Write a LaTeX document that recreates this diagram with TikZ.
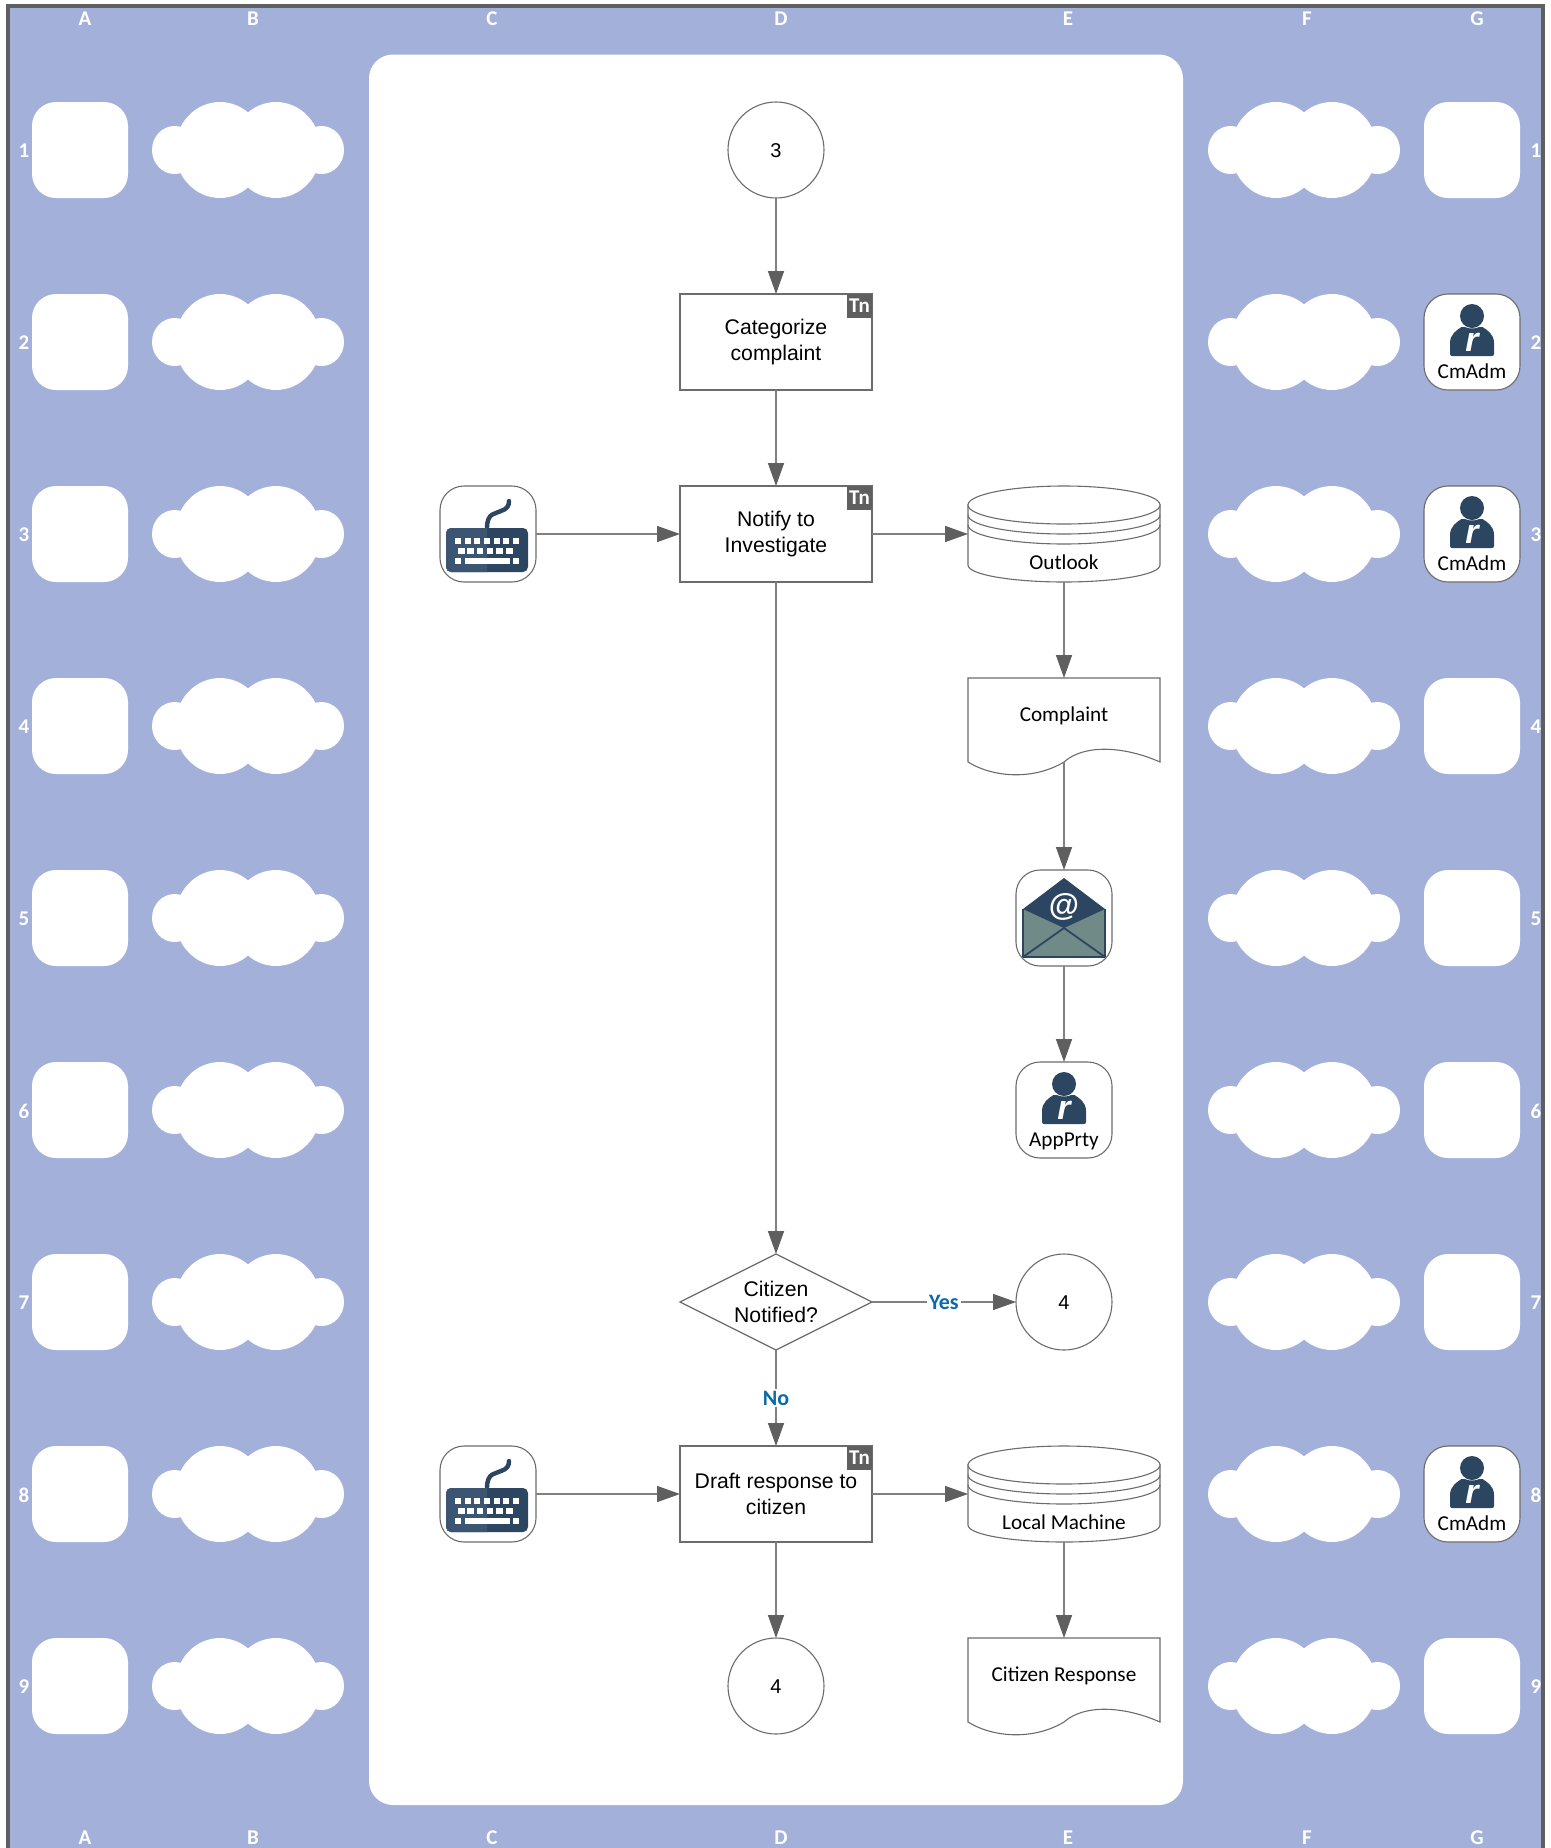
\documentclass[tikz,border=0pt]{standalone}
\usepackage{fontspec}
\setmainfont{Carlito}
\newfontfamily\arialf{Liberation Sans}
\usetikzlibrary{arrows.meta,shapes.geometric}
\definecolor{bandblue}{HTML}{A3B0D9}
\definecolor{framegray}{HTML}{5F5F5F}
\definecolor{linegray}{HTML}{808080}
\definecolor{shapegray}{HTML}{6C6C6C}
\definecolor{icondark}{HTML}{2C4560}
\definecolor{iconmid}{HTML}{3B5572}
\definecolor{iconsage}{HTML}{6F8A87}
\definecolor{labelblue}{HTML}{0B6AA8}
\tikzset{
  x=0.5pt,y=-0.5pt,
  flow/.style={draw=linegray,line width=0.75pt,-{Triangle[length=11.5pt,width=8pt,color=framegray]}},
  axislabel/.style={text=white,font=\bfseries\fontsize{10.5}{12}\selectfont,inner sep=0pt},
  spot/.style={fill=white,draw=none,rounded corners=12pt,minimum width=48pt,minimum height=48pt,inner sep=0pt,outer sep=0pt},
  iconbox/.style={fill=white,draw=shapegray,line width=0.55pt,rounded corners=12pt,minimum width=48pt,minimum height=48pt,inner sep=0pt,outer sep=0pt},
  taskbox/.style={fill=white,draw=shapegray,line width=0.6pt,minimum width=96pt,minimum height=48pt,inner sep=0pt,outer sep=0pt,align=center,font=\arialf\fontsize{10.6}{13}\selectfont},
  tnbadge/.style={fill=framegray,text=white,minimum width=12.5pt,minimum height=12pt,inner sep=0pt,outer sep=0pt,font=\bfseries\fontsize{10.5}{11}\selectfont},
  roundnode/.style={circle,fill=white,draw=shapegray,line width=0.55pt,minimum size=48pt,inner sep=0pt,outer sep=0pt,font=\arialf\fontsize{10}{12}\selectfont},
  decision/.style={diamond,aspect=2,fill=white,draw=shapegray,line width=0.6pt,minimum width=96pt,minimum height=48pt,inner sep=0pt,outer sep=0pt,align=center},
  plainhit/.style={draw=none,fill=none,minimum width=96pt,inner sep=0pt,outer sep=0pt},
  shapeline/.style={draw=shapegray,line width=0.55pt,fill=white},
  calibri/.style={font=\fontsize{10.6}{12}\selectfont,inner sep=0pt},
  flowlabel/.style={fill=white,text=labelblue,font=\bfseries\fontsize{11}{12}\selectfont,inner sep=1pt},
}
\newcommand{\cloudshape}[2]{%
  \fill[white] (#1+22.5,#2) ellipse[x radius=11.25pt,y radius=12pt]
    (#1+68,#2) ellipse[x radius=22.5pt,y radius=24pt]
    (#1+124,#2) ellipse[x radius=22.5pt,y radius=24pt]
    (#1+169.5,#2) ellipse[x radius=11.25pt,y radius=12pt];}
\newcommand{\usericon}[5]{%
  \node[iconbox] (#1) at (#2,#3) {};
  \begin{scope}[shift={(#2,#3)}]
    \fill[icondark] (0,-26) circle[radius=6pt];
    \fill[icondark,rounded corners=1pt] (-22,14) -- (-22,3) .. controls (-22,-8) and (-15,-12) .. (-9,-16)
      .. controls (-4,-13) and (4,-13) .. (9,-16) .. controls (15,-12) and (22,-8) .. (22,3) -- (22,14) -- cycle;
    \node[text=white,inner sep=0pt,font=\arialf\bfseries\itshape\fontsize{17}{17}\selectfont] (#1r) at (0,0) {r};
    \node[calibri] (#1t) at (0,#5) {#4};
  \end{scope}}
\newcommand{\keyboardicon}[3]{%
  \node[iconbox] (#1) at (#2,#3) {};
  \begin{scope}[shift={(#2,#3)}]
    \draw[icondark,line width=2.2pt,line cap=round] (-1,-6) .. controls (-1,-22) and (8,-20) .. (13,-23) .. controls (19,-25) and (21,-28) .. (21,-33);
    \fill[icondark,rounded corners=2.5pt] (-42,-6) rectangle (40,38);
    \begin{scope}
      \clip (-42,-6) rectangle (-1,38);
      \fill[iconmid,rounded corners=2.5pt] (-42,-6) rectangle (40,38);
    \end{scope}
    \foreach \kx in {-33,-23.5,-14,-4,5.5,15,25} \fill[white] (\kx,4) rectangle ++(6,5.5);
    \foreach \kx in {-30,-21,-11.5,-1.5,8,18} \fill[white] (\kx,13.5) rectangle ++(6.5,6);
    \fill[white] (-33,23.5) rectangle ++(6,6);
    \fill[white] (-23.5,23.5) rectangle (21.5,29.5);
    \fill[white] (25,23.5) rectangle ++(6,6);
  \end{scope}}
\newcommand{\cylinderbody}[3]{%
  \begin{scope}[shift={(#2,#3)}]
    \path[shapeline] (-96,-29) -- (-96,31) .. controls (-96,41) and (-50,48) .. (0,48) .. controls (50,48) and (96,41) .. (96,31) -- (96,-29) -- cycle;
    \draw[shapegray,line width=0.55pt] (-96,-19) .. controls (-96,-8) and (-50,0) .. (0,0) .. controls (50,0) and (96,-8) .. (96,-19);
    \draw[shapegray,line width=0.55pt] (-96,-9) .. controls (-96,2) and (-50,10) .. (0,10) .. controls (50,10) and (96,2) .. (96,-9);
    \path[shapeline] (0,-29) ellipse[x radius=48pt,y radius=9.5pt];
  \end{scope}}
\newcommand{\docbody}[2]{%
  \begin{scope}[shift={(#1,#2)}]
    \path[shapeline] (-96,0) -- (96,0) -- (96,84) .. controls (60,68) and (20,66) .. (0,84) .. controls (-30,102) and (-70,100) .. (-96,84) -- cycle;
  \end{scope}}
\begin{document}
\begin{tikzpicture}
\useasboundingbox (0,0) rectangle (1551,1848);
\fill[white] (0,0) rectangle (1551,1848);
\fill[bandblue] (8,6) rectangle (1543,1848);
\draw[framegray,line width=1.7pt] (8,1848) -- (8,6) -- (1543,6) -- (1543,1848);
\fill[white,rounded corners=12pt] (369,54.5) rectangle (1183,1805);

% grid labels
\node[axislabel] (colAt) at (85,19) {A};
\node[axislabel] (colBt) at (253,19) {B};
\node[axislabel] (colCt) at (492,19) {C};
\node[axislabel] (colDt) at (781,19) {D};
\node[axislabel] (colEt) at (1068,19) {E};
\node[axislabel] (colFt) at (1307,19) {F};
\node[axislabel] (colGt) at (1477,19) {G};
\node[axislabel] (colAb) at (85,1837.5) {A};
\node[axislabel] (colBb) at (253,1837.5) {B};
\node[axislabel] (colCb) at (492,1837.5) {C};
\node[axislabel] (colDb) at (781,1837.5) {D};
\node[axislabel] (colEb) at (1068,1837.5) {E};
\node[axislabel] (colFb) at (1307,1837.5) {F};
\node[axislabel] (colGb) at (1477,1837.5) {G};

\foreach \r in {1,...,9}{
  \pgfmathsetmacro\yy{150+192*(\r-1)}
  \node[axislabel] (rowL\r) at (24,\yy+1) {\r};
  \node[axislabel] (rowR\r) at (1536,\yy+1) {\r};
  \node[spot] (spotA\r) at (80,\yy) {};
  \cloudshape{152}{\yy}
  \cloudshape{1208}{\yy}
}
\foreach \r in {1,4,5,6,7,9}{
  \pgfmathsetmacro\yy{150+192*(\r-1)}
  \node[spot] (spotG\r) at (1472,\yy) {};
}

% flow nodes
\node[roundnode] (start) at (776,150) {};
\node[inner sep=0pt,font=\arialf\fontsize{10}{12}\selectfont] (startt) at (776,151) {3};
\node[taskbox] (categorize) at (776,342) {};
\node[inner sep=0pt,align=center,font=\arialf\fontsize{10.6}{13}\selectfont] (categorizet) at (776,342.5) {Categorize\\complaint};
\node[taskbox] (notify) at (776,534) {};
\node[inner sep=0pt,align=center,font=\arialf\fontsize{10.6}{13}\selectfont] (notifyt) at (776,534.5) {Notify to\\Investigate};
\node[decision] (citizen) at (776,1302) {};
\node[inner sep=0pt,align=center,font=\arialf\fontsize{10.6}{13.4}\selectfont] (citizent) at (776,1302) {Citizen\\Notified?};
\node[roundnode] (endE) at (1064,1302) {};
\node[inner sep=0pt,font=\arialf\fontsize{10}{12}\selectfont] (endEt) at (1064,1303) {4};
\node[taskbox] (draft) at (776,1494) {Draft response to\\citizen};
\node[roundnode] (endD) at (776,1686) {};
\node[inner sep=0pt,font=\arialf\fontsize{10}{12}\selectfont] (endDt) at (776,1687) {4};
\node[tnbadge] (tna) at (859.5,306) {Tn};
\node[tnbadge] (tnb) at (859.5,498) {Tn};
\node[tnbadge] (tnc) at (859.5,1458) {Tn};

\keyboardicon{kbda}{488}{534}
\keyboardicon{kbdb}{488}{1494}

\cylinderbody{outlook}{1064}{534}
\node[plainhit,minimum height=48pt] (outlook) at (1064,534) {};
\node[calibri] (outlookt) at (1064,562) {Outlook};
\cylinderbody{localm}{1064}{1494}
\node[plainhit,minimum height=48pt] (localm) at (1064,1494) {};
\node[calibri] (localmt) at (1064,1522.5) {Local Machine};

\docbody{1064}{678}
\node[plainhit,minimum height=42pt] (complaint) at (1064,720) {};
\node[calibri] (complaintt) at (1064,716) {Complaint};
\docbody{1064}{1638}
\node[plainhit,minimum height=42pt] (response) at (1064,1680) {};
\node[calibri] (responset) at (1064,1676) {Citizen Response};

% envelope
\node[iconbox] (mail) at (1064,918) {};
\begin{scope}[shift={(1064,918)}]
  \fill[iconsage] (-41,-9) -- (41,-9) -- (41,39) -- (-41,39) -- cycle;
  \fill[icondark] (0,-40) -- (41,-9) -- (0,10) -- (-41,-9) -- cycle;
  \draw[icondark,line width=0.9pt,line join=round] (-41,-9) -- (-41,39) -- (41,39) -- (41,-9);
  \draw[icondark,line width=0.9pt] (-41,39) -- (0,10) -- (41,39);
  \node[text=white,inner sep=0pt,font=\arialf\bfseries\fontsize{15.5}{16}\selectfont] (mailat) at (0,-11) {@};
\end{scope}

\usericon{adma}{1472}{342}{CmAdm}{29}
\usericon{admb}{1472}{534}{CmAdm}{29}
\usericon{admc}{1472}{1494}{CmAdm}{29}
\usericon{party}{1064}{1110}{AppPrty}{31}

% connectors
\draw[flow] (start) -- (categorize);
\draw[flow] (categorize) -- (notify);
\draw[flow] (kbda) -- (notify);
\draw[flow] (notify) -- (outlook);
\draw[flow] (outlook) -- (complaint);
\draw[flow] (complaint) -- (mail);
\draw[flow] (mail) -- (party);
\draw[flow] (notify) -- (citizen);
\draw[flow] (citizen) -- node[flowlabel,pos=0.5] (yeslabel) {Yes} (endE);
\draw[flow] (citizen) -- node[flowlabel,pos=0.5] (nolabel) {No} (draft);
\draw[flow] (kbdb) -- (draft);
\draw[flow] (draft) -- (localm);
\draw[flow] (localm) -- (response);
\draw[flow] (draft) -- (endD);
\end{tikzpicture}
\end{document}
